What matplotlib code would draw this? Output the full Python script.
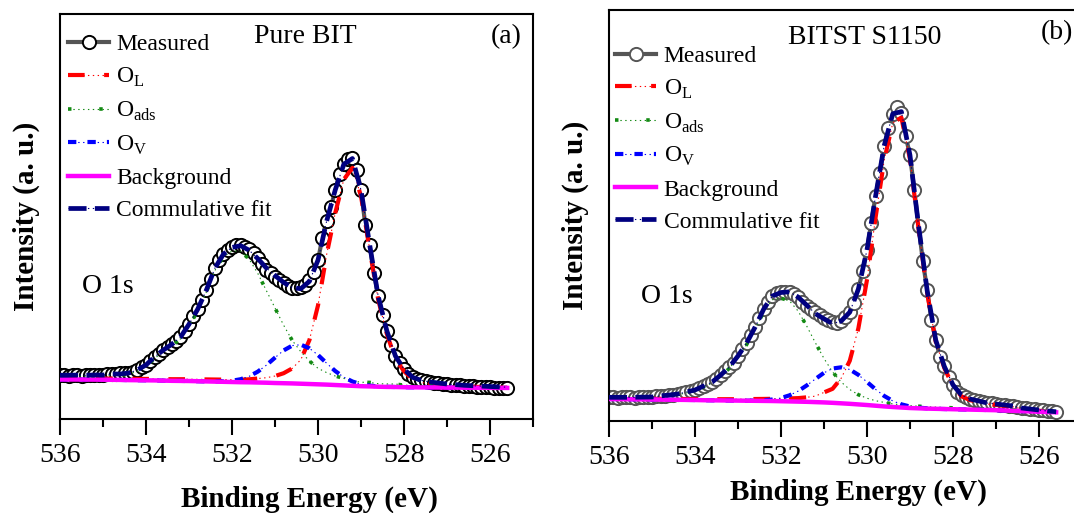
import numpy as np
import matplotlib
matplotlib.use('Agg')
import matplotlib.pyplot as plt
from matplotlib.lines import Line2D
from matplotlib.ticker import MultipleLocator

plt.rcParams['font.family'] = 'Liberation Serif'
plt.rcParams['mathtext.fontset'] = 'custom'
plt.rcParams['mathtext.rm'] = 'Liberation Serif'
plt.rcParams['lines.scale_dashes'] = False

# O 1s spectra, measured on a 0.1 eV step from 536.0 eV downwards (a.u.)
bit_meas = [44, 44, 43, 44, 44, 43, 44, 44, 44, 44,
            44, 45, 45, 45, 46, 46, 46, 47, 49, 52,
            54, 58, 62, 65, 69, 72, 75, 78, 82, 88,
            95, 103, 110, 119, 129, 140, 151, 159, 165, 169,
            172, 174, 174, 172, 170, 166, 161, 155, 149, 146,
            142, 139, 136, 133, 131, 131, 132, 134, 139, 147,
            159, 181, 198, 212, 229, 245, 255, 260, 261, 249,
            229, 194, 174, 146, 123, 104, 88, 74, 63, 56,
            50, 45, 42, 40, 39, 38, 37, 36, 36, 35,
            35, 34, 34, 34, 33, 33, 33, 32, 32, 32,
            32, 31, 31, 31, 31]
bitst_meas = [24, 24, 23, 24, 24, 24, 23, 24, 24, 24,
              24, 25, 25, 25, 26, 26, 27, 28, 29, 30,
              31, 33, 35, 37, 39, 42, 46, 50, 54, 58,
              65, 72, 78, 86, 94, 103, 112, 119, 125, 128,
              129, 129, 129, 127, 124, 119, 115, 112, 109, 106,
              103, 101, 99, 98, 100, 104, 109, 118, 132, 150,
              171, 198, 225, 248, 275, 293, 307, 314, 308, 285,
              266, 231, 195, 160, 131, 101, 81, 64, 55, 44,
              36, 29, 26, 24, 22, 21, 20, 19, 18, 18,
              17, 16, 16, 15, 15, 14, 13, 13, 12, 12,
              11, 11, 10, 10, 9]

# fitted components on a 0.2 eV step from 536.0 eV (peaks given above background)
bit_bg = [39.5, 39.5, 39.5, 39.4, 39.4, 39.3, 39.2, 39.1, 38.9, 38.8, 38.7,
          38.6, 38.4, 38.2, 38.1, 38.0, 37.8, 37.6, 37.4, 37.2, 37.0,
          36.8, 36.7, 36.5, 36.3, 36.0, 35.8, 35.6, 35.3, 35.0, 34.7,
          34.4, 34.0, 33.6, 33.2, 32.8, 32.6, 32.3, 32.1, 32.0, 31.8,
          31.7, 31.6, 31.6, 31.5, 31.4, 31.4, 31.3, 31.3, 31.2, 31.2,
          31.1, 31.1]
bit_ol = [1.0, 1.0, 1.0, 1.0, 1.1, 1.1, 1.2, 1.2, 1.3, 1.3, 1.4,
          1.5, 1.5, 1.6, 1.7, 1.8, 1.9, 2.0, 2.1, 2.2, 2.3,
          2.5, 3.0, 4.0, 5.0, 7.0, 10, 15, 24, 44, 79,
          130, 172, 206, 218, 190, 137, 87, 53, 28, 16,
          8, 5, 3.5, 2.5, 2.0, 1.6, 1.2, 1.0, 0.8, 0.5,
          0.3, 0.2]
bit_oads = [3.3, 3.3, 3.4, 3.4, 3.5, 3.6, 4.6, 4.7, 5.8, 9.0, 14,
            22, 29, 35, 42, 55, 70, 89, 111, 125, 131,
            131, 123, 109, 92, 75, 58, 43, 32, 23, 16,
            12, 9, 7, 5, 4, 4, 3, 3, 3, 2,
            2, 2, 2, 2, 1.6, 1.4, 1.2, 1.0, 0.9, 0.8,
            0.7, 0.6]
bit_ov = [0, 0, 0, 0, 0, 0, 0, 0, 0, 0, 0,
          0, 0, 0, 0, 0, 0, 0, 0.2, 0.5, 1.3,
          3.0, 6.0, 10.9, 17.6, 25.4, 32.8, 37.8, 39.0, 35.7, 29.3,
          21.4, 14.0, 8.2, 4.3, 2.0, 0.8, 0.3, 0.1, 0, 0,
          0, 0, 0, 0, 0, 0, 0, 0, 0, 0,
          0, 0]

bitst_bg = [22.0, 21.9, 21.8, 21.7, 21.6, 21.5, 21.4, 21.3, 21.2, 21.1, 21.0,
            20.8, 20.7, 20.6, 20.5, 20.4, 20.3, 20.2, 20.1, 20.0, 19.8,
            19.6, 19.4, 19.2, 18.9, 18.6, 18.2, 17.7, 17.2, 16.6, 16.0,
            15.3, 14.6, 14.0, 13.5, 13.0, 12.7, 12.4, 12.2, 12.0, 11.8,
            11.6, 11.4, 11.2, 11.0, 10.8, 10.5, 10.2, 9.9, 9.6, 9.3,
            9.0, 8.7]
bitst_ol = [0.6, 0.6, 0.6, 0.7, 0.7, 0.7, 0.8, 0.8, 0.8, 0.9, 0.9,
            1.0, 1.1, 1.2, 1.3, 1.4, 1.6, 1.8, 2.0, 2.2, 2.5,
            3.0, 3.5, 4.5, 6, 10, 14, 25, 43, 76, 125,
            188, 246, 284, 290, 249, 180, 116, 67, 41, 23,
            13, 9.5, 7.8, 6.0, 5.3, 4.6, 4.0, 2.3, 1.7, 1.0,
            0.4, 0.0]
bitst_oads = [1.1, 1.2, 1.3, 1.4, 1.6, 1.8, 2.9, 3.9, 5.0, 7.0, 9.1,
              13.2, 17.2, 24.2, 32.2, 43.2, 56, 71.7, 89.2, 101.3, 103,
              100.5, 90.5, 75.7, 59.4, 44, 30.9, 21.3, 14.3, 9.7, 6.8,
              5.0, 4.0, 3.1, 2.7, 2.4, 2.1, 1.9, 1.7, 1.5, 1.4,
              1.2, 1.1, 1.0, 1.0, 0.9, 0.9, 0.8, 0.8, 0.7, 0.7,
              0.6, 0.6]
bitst_ov = [0, 0, 0, 0, 0, 0, 0, 0, 0, 0, 0,
            0, 0, 0, 0, 0, 0, 0.3, 0.7, 1.5, 3.2,
            6.1, 10.5, 16.4, 23.1, 29.6, 34.3, 36.0, 34.3, 29.6, 23.1,
            16.4, 10.5, 6.1, 3.2, 1.5, 0.7, 0.3, 0, 0, 0,
            0, 0, 0, 0, 0, 0, 0, 0, 0, 0,
            0, 0]

x_ticks = [536, 534, 532, 530, 528, 526]
labels = ['Measured', r'O$_\mathregular{L}$', r'O$_\mathregular{ads}$',
          r'O$_\mathregular{V}$', 'Background', 'Commulative fit']


def dashed_pair(color, lw, dashes):
    # thick dashes with a fine dotted line running underneath
    thick = dict(color=color, lw=lw, dashes=dashes)
    thin = dict(color=color, lw=0.8, dashes=(1, 2.5))
    return thick, thin


styles = {
    'ol': dashed_pair('#ff0000', 3.0, (12, 14)),
    'oads': dashed_pair('#138a13', 2.6, (2.5, 20)),
    'ov': dashed_pair('#0000ff', 3.0, (6, 8)),
    'fit': dashed_pair('#000080', 3.4, (13, 6)),
}


def draw_panel(ax, meas, bg, ol, oads, ov, edge, ylim, title, tag,
               title_xy, tag_xy, o1s_xy, leg_xy, xlabel_y):
    E_meas = np.round(536.0 - 0.1 * np.arange(len(meas)), 1)
    E_fit = np.round(536.0 - 0.2 * np.arange(len(bg)), 1)
    bg = np.array(bg)
    comps = [bg + np.array(ol), bg + np.array(oads), bg + np.array(ov)]
    total = bg + np.array(ol) + np.array(oads) + np.array(ov)

    ax.plot(E_meas, meas, color='#555555', lw=3.0, marker='o', ms=9.5,
            mfc='white', mec=edge, mew=1.4, zorder=2)

    handles = [Line2D([], [], color='#555555', lw=3.0, marker='o', ms=9.5,
                      mfc='white', mec=edge, mew=1.4)]
    for key, y in zip(['ol', 'oads', 'ov'], comps):
        thick, thin = styles[key]
        ax.plot(E_fit, y, zorder=3, **thin)
        ax.plot(E_fit, y, zorder=3, **thick)
        handles.append((Line2D([], [], **thin), Line2D([], [], **thick)))

    ax.plot(E_fit, bg, color='#ff00ff', lw=3.2, zorder=4)
    handles.append(Line2D([], [], color='#ff00ff', lw=3.2))

    thick, thin = styles['fit']
    ax.plot(E_fit, total, zorder=5, **thin)
    ax.plot(E_fit, total, zorder=5, **thick)
    handles.append((Line2D([], [], **thin), Line2D([], [], **thick)))

    ax.set_xlim(536, 525)
    ax.set_ylim(*ylim)
    ax.set_xticks(x_ticks)
    ax.xaxis.set_minor_locator(MultipleLocator(1))
    ax.tick_params(axis='x', which='major', direction='out', length=11.5,
                   width=1.5, labelsize=20, pad=6)
    ax.tick_params(axis='x', which='minor', direction='out', length=5.8,
                   width=1.5)
    ax.tick_params(axis='y', left=False, labelleft=False)
    for sp in ax.spines.values():
        sp.set_linewidth(1.5)

    ax.set_xlabel('Binding Energy (eV)', fontsize=21, fontweight='bold')
    ax.xaxis.set_label_coords(0.528, xlabel_y)
    ax.set_ylabel('Intensity (a. u.)', fontsize=21, fontweight='bold')
    ax.yaxis.set_label_coords(-0.042, 0.5)

    ax.text(*title_xy, title, transform=ax.transAxes, fontsize=20,
            ha='center', va='center')
    ax.text(*tag_xy, tag, transform=ax.transAxes, fontsize=20,
            ha='center', va='center')
    ax.text(*o1s_xy, 'O 1s', transform=ax.transAxes, fontsize=20,
            ha='center', va='center')

    ax.legend(handles, labels, loc='upper left', bbox_to_anchor=leg_xy,
              frameon=False, fontsize=17, handlelength=1.75,
              handletextpad=0.3, labelspacing=0.45, borderpad=0,
              borderaxespad=0, numpoints=1)


fig = plt.figure(figsize=(10.74, 5.13), dpi=100)
ax1 = fig.add_axes([0.0559, 0.1832, 0.4404, 0.7895])
ax2 = fig.add_axes([0.5670, 0.1793, 0.4404, 0.8012])

draw_panel(ax1, bit_meas, bit_bg, bit_ol, bit_oads, bit_ov, 'black',
           (0, 405), 'Pure BIT', '(a)', (0.518, 0.945), (0.943, 0.943),
           (0.101, 0.326), (0.017, 0.951), -0.165)
draw_panel(ax2, bitst_meas, bitst_bg, bitst_ol, bitst_oads, bitst_ov,
           '#555555', (0, 411), 'BITST S1150', '(b)', (0.541, 0.934),
           (0.947, 0.944), (0.123, 0.302), (0.013, 0.914), -0.141)

fig.savefig('out.png', dpi=100)
